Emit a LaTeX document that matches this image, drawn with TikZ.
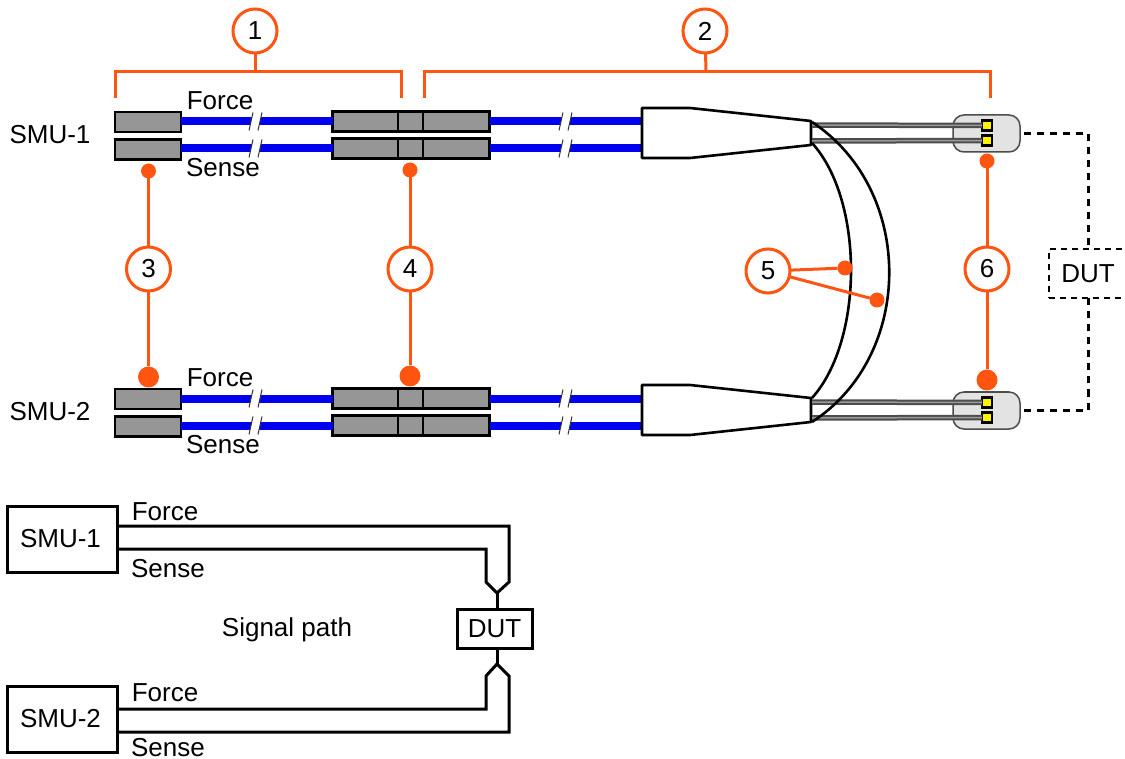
\documentclass[tikz,border=0pt]{standalone}
\usepackage{fontspec}
\setmainfont{Liberation Sans}
\usetikzlibrary{positioning}
\definecolor{orline}{HTML}{FF5510}
\definecolor{plugray}{HTML}{969696}
\definecolor{cableblue}{HTML}{0000F0}
\tikzset{
  lbl/.style={font=\fontsize{26}{30}\selectfont,inner sep=0pt,outer sep=0pt},
  plug/.style={draw=black,line width=2.6pt,fill=plugray,inner sep=0pt,outer sep=0pt,minimum height=20pt},
  cable/.style={cableblue,line width=8pt},
  num/.style={circle,draw=orline,line width=3pt,fill=white,minimum size=44pt,inner sep=0pt,outer sep=0pt,font=\fontsize{26}{30}\selectfont},
  dotS/.style={circle,fill=orline,minimum size=15pt,inner sep=0pt,outer sep=0pt},
  dotL/.style={circle,fill=orline,minimum size=21pt,inner sep=0pt,outer sep=0pt},
  orwire/.style={orline,line width=3pt},
  wire/.style={black,line width=3pt},
  pad/.style={draw=black,line width=2.6pt,fill=yellow,inner sep=0pt,outer sep=0pt,minimum size=10pt},
  sigbox/.style={draw=black,line width=3pt,inner sep=0pt,outer sep=0pt,font=\fontsize{26}{30}\selectfont},
  dutline/.style={black,line width=3pt,dash pattern=on 7pt off 6pt,shorten <=4pt},
}
\begin{document}
\begin{tikzpicture}[x=1pt,y=-1pt]
\useasboundingbox (0,0) rectangle (1125,759);

% two probe rows, SMU-1 above and SMU-2 below
\foreach \row/\dy/\name in {A/0/SMU-1,B/277/SMU-2}{
\begin{scope}[shift={(0,\dy)}]
\node[plug,minimum width=66pt] (cabF\row) at (148,122) {};
\node[plug,minimum width=66pt] (cabS\row) at (148,149.5) {};
\node[plug,minimum width=157pt] (midF\row) at (411,121.5) {};
\node[plug,minimum width=157pt] (midS\row) at (411,148.5) {};
\draw[cable] (cabF\row.east |- midF\row.west) -- (midF\row.west);
\draw[cable] (cabS\row.east |- midS\row.west) -- (midS\row.west);
\draw[black,line width=2.6pt] (398,111) -- (398,132) (423,111) -- (423,132);
\draw[black,line width=2.6pt] (398,138) -- (398,159) (423,138) -- (423,159);
\coordinate (pcF\row) at (642,121.5);
\coordinate (pcS\row) at (642,148.5);
\draw[cable] (midF\row.east) -- (pcF\row);
\draw[cable] (midS\row.east) -- (pcS\row);
% cable breaks
\foreach \x in {256,566}
  \foreach \y in {121.5,148.5}{
  \fill[white] (\x-7,\y+9) -- (\x-3,\y-9) -- (\x+6,\y-9) -- (\x+2,\y+9) -- cycle;
  \draw[black!80,line width=1pt] (\x-7,\y+9) -- (\x-3,\y-9) (\x+2,\y+9) -- (\x+6,\y-9);
}
\draw[black,line width=2.6pt,fill=white,line join=round] (642,108) -- (690,108) -- (811,121) -- (811,145) -- (690,158) -- (642,158) -- cycle;
\node[draw=black!70,line width=1.5pt,fill=black!11,rounded corners=11pt,minimum width=67pt,minimum height=37pt,inner sep=0pt,outer sep=0pt] (tip\row) at (986.5,133.5) {};
\node[pad] (padF\row) at (987,125.5) {};
\node[pad] (padS\row) at (987,140.5) {};
\coordinate (fanF\row) at (812,125);
\coordinate (fanS\row) at (812,141);
\draw[black!70,line width=5.5pt] (fanF\row) -- (padF\row.west);
\draw[black!70,line width=5.5pt] (fanS\row) -- (padS\row.west);
\draw[black!40,line width=1.5pt] (fanF\row) -- (padF\row.west);
\draw[black!40,line width=1.5pt] (fanS\row) -- (padS\row.west);
\node[lbl] (smu\row) at (50,134.5) {\name};
\node[lbl] (force\row) at (220,101) {Force};
\node[lbl] (sense\row) at (223,167.5) {Sense};
\end{scope}
}

% flexible jumpers
\draw[black,line width=2.6pt] (812,122) .. controls (915,190) and (915,355) .. (812,422);
\draw[black,line width=2.6pt] (812,143) .. controls (864,200) and (864,340) .. (812,398);

% DUT, dashed
\node[draw=black,dash pattern=on 6pt off 5pt,line width=2.6pt,fill=white,minimum width=78pt,minimum height=49pt,inner sep=0pt,outer sep=0pt,font=\fontsize{26}{30}\selectfont] (dutTop) at (1088,273.5) {DUT};
\draw[dutline] (tipA.east) -| (dutTop.north);
\draw[dutline] (tipB.east) -| (dutTop.south);

% orange callouts
\node[num] (n1) at (255,31) {1};
\node[num] (n2) at (705,31) {2};
\node[num] (n3) at (148.5,269) {3};
\node[num] (n4) at (410,269) {4};
\node[num] (n5) at (768,271) {5};
\node[num] (n6) at (987,269) {6};
\coordinate (brAl) at (115,98);
\coordinate (brAr) at (401,98);
\coordinate (brAm) at (255,72);
\coordinate (brBl) at (424,98);
\coordinate (brBr) at (990,98);
\coordinate (brBm) at (706,72);
\draw[orwire] (brAl) |- (brAm) -| (brAr);
\draw[orwire] (brBl) |- (brBm) -| (brBr);
\draw[orwire] (n1) -- (brAm);
\draw[orwire] (n2) -- (brBm);
\node[dotS] (d3t) at (148.5,171) {};
\node[dotL] (d3b) at (148.5,377) {};
\node[dotS] (d4t) at (410,170) {};
\node[dotL] (d4b) at (410,376) {};
\node[dotS] (d5a) at (845,268) {};
\node[dotS] (d5b) at (877,300) {};
\node[dotS] (d6t) at (987,161) {};
\node[dotL] (d6b) at (987,380) {};
\draw[orwire] (d3t) -- (n3) -- (d3b);
\draw[orwire] (d4t) -- (n4) -- (d4b);
\draw[orwire] (d6t) -- (n6) -- (d6b);
\draw[orwire] (n5) -- (d5a);
\draw[orwire] (n5) -- (d5b);

% signal path
\node[sigbox,minimum width=110pt,minimum height=66pt] (sigA) at (62,539) {\raisebox{-1pt}{SMU-1\kern3pt}};
\node[sigbox,minimum width=110pt,minimum height=66pt] (sigB) at (62,719) {\raisebox{-1pt}{SMU-2\kern3pt}};
\node[sigbox,minimum width=75pt,minimum height=39pt] (sigD) at (494.5,628.5) {DUT};
\node[lbl] (sigT) at (287,630) {Signal path};
\node[lbl] (sfA) at (165,512) {Force};
\node[lbl] (ssA) at (168,569) {Sense};
\node[lbl] (sfB) at (165,693) {Force};
\node[lbl] (ssB) at (168,748) {Sense};
\coordinate (fkA) at (497,593);
\coordinate (fkB) at (497,664);
\draw[wire,line join=miter] (sigA.east |- 0,526) -- (509,526) -- (509,582) -- (fkA);
\draw[wire] (sigA.east |- 0,549) -- (486,549) -- (486,582) -- (fkA);
\draw[wire] (fkA) -- (fkA |- sigD.north);
\draw[wire] (sigB.east |- 0,709) -- (486,709) -- (486,676) -- (fkB);
\draw[wire] (sigB.east |- 0,732) -- (509,732) -- (509,676) -- (fkB);
\draw[wire] (fkB) -- (fkB |- sigD.south);
\end{tikzpicture}
\end{document}
